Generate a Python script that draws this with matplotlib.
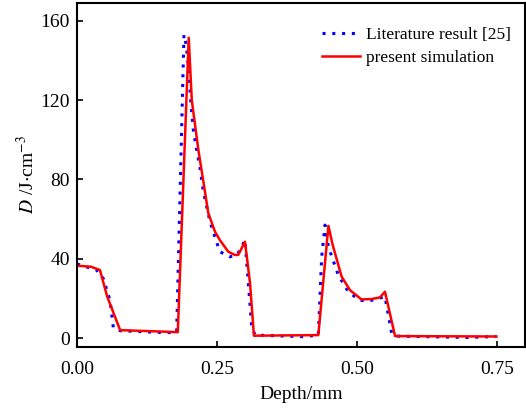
import matplotlib
matplotlib.use('Agg')
import matplotlib.pyplot as plt
from matplotlib.ticker import FormatStrFormatter

# Serif look like the original (Times-style)
plt.rcParams['font.family'] = ['Liberation Serif', 'DejaVu Serif']
plt.rcParams['mathtext.fontset'] = 'stix'

# Literature result [25] (blue dotted)
lit_depth = [0.0, 0.035, 0.047, 0.059, 0.065, 0.077, 0.16, 0.178, 0.191, 0.195, 0.199,
             0.203, 0.2077, 0.2137, 0.2196, 0.2256, 0.2375, 0.255, 0.273, 0.286, 0.294,
             0.300, 0.306, 0.312, 0.318, 0.405, 0.431, 0.437, 0.443, 0.449, 0.4666,
             0.4845, 0.505, 0.523, 0.538, 0.55, 0.556, 0.562, 0.57, 0.699, 0.749]
lit_dose = [37.4, 34.3, 30.0, 19.0, 5.0, 3.7, 2.7, 3.0, 153.0, 148.0, 137.0,
            120.0, 105.0, 95.0, 86.0, 74.0, 58.7, 43.6, 41.0, 42.0, 46.0,
            49.5, 27.7, 5.7, 1.5, 0.7, 1.5, 41.0, 57.0, 46.0, 31.8,
            23.4, 19.0, 18.8, 20.0, 20.9, 11.6, 2.4, 1.0, 0.3, 0.8]

# present simulation (red solid)
sim_depth = [0.0, 0.025, 0.041, 0.054, 0.077, 0.18, 0.1995, 0.205, 0.2167, 0.2345,
             0.2464, 0.255, 0.270, 0.282, 0.288, 0.300, 0.309, 0.316, 0.431, 0.449,
             0.4566, 0.4726, 0.4875, 0.508, 0.526, 0.541, 0.55, 0.568, 0.749]
sim_dose = [36.5, 36.0, 34.3, 20.9, 4.0, 3.0, 151.5, 120.0, 95.0, 63.0,
            53.7, 49.5, 43.6, 41.9, 42.0, 48.6, 27.7, 1.2, 1.5, 56.6,
            47.0, 31.0, 24.2, 19.5, 19.7, 20.5, 23.4, 1.0, 0.8]

fig = plt.figure(figsize=(5.26, 4.08), dpi=100)
ax = fig.add_axes([0.1464, 0.1495, 0.8516, 0.8431])

ax.plot(lit_depth, lit_dose, color='blue', linestyle=(0, (1, 2.2)), linewidth=2.2,
        label='Literature result [25]')
ax.plot(sim_depth, sim_dose, color='red', linestyle='-', linewidth=1.8,
        label='present simulation')

ax.set_xlim(0, 0.8)
ax.set_ylim(-4.5, 169)
ax.set_xticks([0.0, 0.25, 0.5, 0.75])
ax.set_yticks([0, 40, 80, 120, 160])
ax.xaxis.set_major_formatter(FormatStrFormatter('%.2f'))
ax.tick_params(direction='in', length=4.5, width=1.2, labelsize=14)
ax.tick_params(axis='x', pad=10)
ax.tick_params(axis='y', pad=5)

for sp in ax.spines.values():
    sp.set_linewidth(1.5)

ax.set_xlabel('Depth/mm', fontsize=14, labelpad=6)
ax.set_ylabel(r'$D$ /J$\cdot$cm$^{-3}$', fontsize=14, labelpad=2)

ax.legend(loc='upper right', bbox_to_anchor=(0.995, 0.965), frameon=False, fontsize=12.5,
          handlelength=2.2, handletextpad=0.3, labelspacing=0.35, borderaxespad=0.3)

fig.savefig('out.png', dpi=100)
